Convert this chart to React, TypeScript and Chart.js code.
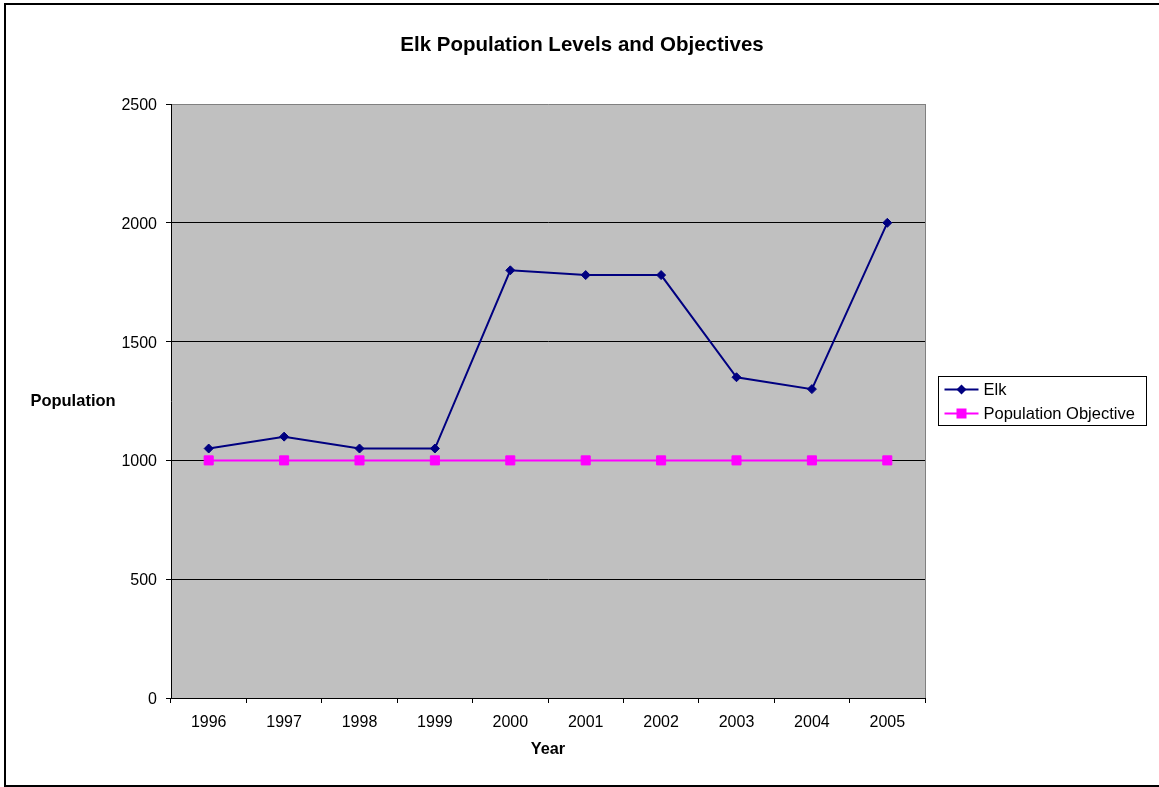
import React, { useEffect, useRef } from "react";
import { Chart, registerables } from "chart.js";

Chart.register(...registerables);

const years = ["1996", "1997", "1998", "1999", "2000", "2001", "2002", "2003", "2004", "2005"];
const elk = [1050, 1100, 1050, 1050, 1800, 1780, 1780, 1350, 1300, 2000];
const objective = [1000, 1000, 1000, 1000, 1000, 1000, 1000, 1000, 1000, 1000];
const yTicks = [0, 500, 1000, 1500, 2000, 2500];

const FONT = "'Liberation Sans', Arial, Helvetica, sans-serif";
const NAVY = "#000080";
const MAGENTA = "#FF00FF";
const W = 1159;
const H = 787;

// Gray plot background, plot frame, horizontal y-axis caption, boxed legend and outer border.
const decorations = {
  id: "decorations",
  beforeDraw(chart: any) {
    const { ctx, chartArea: a } = chart;
    ctx.save();
    ctx.fillStyle = "#ffffff";
    ctx.fillRect(0, 0, W, H);
    ctx.fillStyle = "#C0C0C0";
    ctx.fillRect(a.left, a.top, a.right - a.left, a.bottom - a.top);
    ctx.restore();
  },
  beforeDatasetsDraw(chart: any) {
    const { ctx, chartArea: a } = chart;
    ctx.save();
    ctx.strokeStyle = "#808080";
    ctx.lineWidth = 1;
    ctx.beginPath();
    ctx.moveTo(Math.round(a.right) + 0.5, a.top);
    ctx.lineTo(Math.round(a.right) + 0.5, a.bottom);
    ctx.stroke();
    ctx.restore();
  },
  afterDraw(chart: any) {
    const { ctx, chartArea: a } = chart;
    const midY = (a.top + a.bottom) / 2;
    ctx.save();

    // y-axis caption, written horizontally
    ctx.fillStyle = "#000";
    ctx.font = `bold 16.5px ${FONT}`;
    ctx.textAlign = "center";
    ctx.textBaseline = "middle";
    ctx.fillText("Population", 73, midY);

    // legend
    const bx = Math.round(a.right) + 13.5;
    const by = Math.round(midY) - 24.5;
    ctx.strokeStyle = "#000";
    ctx.lineWidth = 1;
    ctx.strokeRect(bx, by, 208, 49);

    const rows = [
      { label: "Elk", color: NAVY, shape: "diamond", y: by + 13 },
      { label: "Population Objective", color: MAGENTA, shape: "square", y: by + 37 },
    ];
    ctx.font = `16.5px ${FONT}`;
    ctx.textAlign = "left";
    for (const r of rows) {
      ctx.strokeStyle = r.color;
      ctx.lineWidth = 2;
      ctx.beginPath();
      ctx.moveTo(bx + 6, r.y);
      ctx.lineTo(bx + 40, r.y);
      ctx.stroke();
      ctx.fillStyle = r.color;
      const cx = bx + 23;
      ctx.beginPath();
      if (r.shape === "diamond") {
        ctx.moveTo(cx - 5, r.y);
        ctx.lineTo(cx, r.y - 5);
        ctx.lineTo(cx + 5, r.y);
        ctx.lineTo(cx, r.y + 5);
        ctx.closePath();
      } else {
        ctx.rect(cx - 5, r.y - 5, 10, 10);
      }
      ctx.fill();
      ctx.fillStyle = "#000";
      ctx.fillText(r.label, bx + 45, r.y + 1);
    }

    // outer border
    ctx.strokeStyle = "#000";
    ctx.lineWidth = 2;
    ctx.strokeRect(5, 4, W - 4, H - 4 - 1);
    ctx.restore();
  },
};

export default function App() {
  const ref = useRef<HTMLCanvasElement | null>(null);

  useEffect(() => {
    if (!ref.current) return;
    const chart = new Chart(ref.current, {
      type: "line",
      data: {
        labels: years,
        datasets: [
          {
            label: "Elk",
            data: elk,
            borderColor: NAVY,
            backgroundColor: NAVY,
            borderWidth: 2,
            pointStyle: "rectRot",
            pointRadius: 4.5,
            pointBorderWidth: 1,
            pointBackgroundColor: NAVY,
            pointBorderColor: NAVY,
            tension: 0,
            yAxisID: "y",
          },
          {
            label: "Population Objective",
            data: objective,
            borderColor: MAGENTA,
            backgroundColor: MAGENTA,
            borderWidth: 2,
            pointStyle: "rect",
            pointRadius: 6.4,
            pointBorderWidth: 1,
            pointBackgroundColor: MAGENTA,
            pointBorderColor: MAGENTA,
            tension: 0,
            yAxisID: "y",
          },
        ],
      },
      options: {
        responsive: false,
        animation: false,
        events: [],
        layout: { padding: { left: 5, right: 0, top: 0, bottom: 0 } },
        plugins: {
          legend: { display: false },
          tooltip: { enabled: false },
          title: {
            display: true,
            text: "Elk Population Levels and Objectives",
            color: "#000",
            font: { family: FONT, size: 20.5, weight: "bold", lineHeight: 1.2 },
            padding: { top: 33.5, bottom: 45.9 },
          },
        },
        scales: {
          x: {
            type: "category",
            offset: true,
            grid: {
              offset: true,
              drawOnChartArea: false,
              drawTicks: true,
              tickLength: 5,
              color: "#000",
            },
            border: { color: "#000", width: 1 },
            ticks: {
              color: "#000",
              font: { family: FONT, size: 16 },
              padding: 10,
              maxRotation: 0,
            },
            title: {
              display: true,
              text: "Year",
              color: "#000",
              font: { family: FONT, size: 16.3, weight: "bold", lineHeight: 1.2 },
              padding: { top: 0, bottom: 27.4 },
            },
            afterFit(scale: any) {
              scale.height = 89;
            },
          },
          y: {
            type: "linear",
            position: "left",
            min: 0,
            max: 2500,
            afterBuildTicks(scale: any) {
              scale.ticks = yTicks.map((v) => ({ value: v }));
            },
            grid: {
              color: (c: any) => (c.tick && c.tick.value === 2500 ? "#808080" : "#000"),
              tickColor: "#000",
              tickLength: 5,
              lineWidth: 1,
            },
            border: { color: "#000", width: 1 },
            ticks: {
              color: "#000",
              font: { family: FONT, size: 16 },
              padding: 9,
              labelOffset: 1.5,
              callback: (v: any) => String(v),
            },
            afterFit(scale: any) {
              scale.width = 166;
            },
          },
          // empty axis that reserves the space on the right used by the legend
          yR: {
            type: "linear",
            position: "right",
            display: true,
            grid: { display: false, drawTicks: false },
            border: { display: false },
            ticks: { display: false },
            afterFit(scale: any) {
              scale.width = 234;
            },
          },
        },
      } as any,
      plugins: [decorations],
    });
    return () => chart.destroy();
  }, []);

  return (
    <div style={{ position: "absolute", left: 0, top: 0, width: W, height: H, background: "#fff" }}>
      <canvas ref={ref} width={W} height={H} style={{ display: "block" }} />
    </div>
  );
}
